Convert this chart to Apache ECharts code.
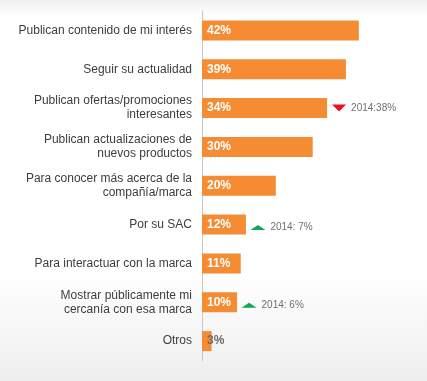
<!DOCTYPE html>
<html>
<head>
<meta charset="utf-8">
<script src="https://cdn.jsdelivr.net/npm/echarts@6/dist/echarts.min.js"></script>
<style>
html,body{margin:0;padding:0;}
body{width:427px;height:381px;background:linear-gradient(to bottom,#f1f1f1 0px,#ffffff 18px,#ffffff 275px,#eeeeee 381px);}
#c{width:427px;height:381px;}
</style>
</head>
<body>
<div id="c"></div>
<script>
var categories = [
  'Publican contenido de mi interés',
  'Seguir su actualidad',
  'Publican ofertas/promociones\ninteresantes',
  'Publican actualizaciones de\nnuevos productos',
  'Para conocer más acerca de la\ncompañía/marca',
  'Por su SAC',
  'Para interactuar con la marca',
  'Mostrar públicamente mi\ncercanía con esa marca',
  'Otros'
];
var values2015 = [42.5, 39, 33.9, 30, 20, 11.9, 10.5, 9.5, 2.6];
var valueLabels = ['42%', '39%', '34%', '30%', '20%', '12%', '11%', '10%', '3%'];
var values2014 = [null, null, 38, null, null, 7, null, 6, null];
var labels2014 = ['', '', '2014:38%', '', '', '2014: 7%', '', '2014: 6%', ''];

var FONT = '"Liberation Sans", Arial, sans-serif';
var DOWN = 'path://M0,0 L14,0 L7,7 Z';
var UP = 'path://M7,0 L14,7 L0,7 Z';

var barData = values2015.map(function (v, i) {
  return {
    value: v,
    label: { color: v < 5 ? '#6b6b6b' : '#ffffff' }
  };
});

var trendData = [];
values2014.forEach(function (p, i) {
  if (p === null) return;
  var down = p > values2015[i];
  trendData.push({
    value: [values2015[i], i],
    symbol: down ? DOWN : UP,
    symbolSize: down ? [14, 7] : [15, 5],
    symbolOffset: [12, down ? 0 : 3],
    itemStyle: { color: down ? '#ec0f24' : '#13a556', opacity: 1 },
    label: { formatter: labels2014[i] }
  });
});

var chart = echarts.init(document.getElementById('c'), null, { renderer: 'canvas' });
chart.setOption({
  animation: false,
  backgroundColor: 'transparent',
  grid: { left: 202, right: 3.6, top: 11, bottom: 20.5, containLabel: false },
  xAxis: { type: 'value', min: 0, max: 60, show: false },
  yAxis: {
    type: 'category',
    inverse: true,
    data: categories,
    axisTick: { show: false },
    axisLine: { show: true, lineStyle: { color: '#c6c6c6', width: 1 } },
    splitLine: { show: false },
    axisLabel: {
      margin: 10,
      color: '#3d3d3d',
      fontSize: 12,
      fontFamily: FONT,
      lineHeight: 14,
      align: 'right'
    }
  },
  series: [
    {
      type: 'bar',
      data: barData,
      barWidth: 20,
      itemStyle: { color: '#f58b32' },
      label: {
        show: true,
        position: 'insideLeft',
        distance: 5,
        fontSize: 12,
        fontWeight: 'bold',
        fontFamily: FONT,
        formatter: function (p) { return valueLabels[p.dataIndex]; }
      },
      z: 2
    },
    {
      type: 'scatter',
      data: trendData,
      itemStyle: { opacity: 1 },
      label: {
        show: true,
        position: 'right',
        distance: 5,
        fontSize: 10,
        fontFamily: FONT,
        color: '#707070'
      },
      z: 3
    }
  ]
});
</script>
</body>
</html>
